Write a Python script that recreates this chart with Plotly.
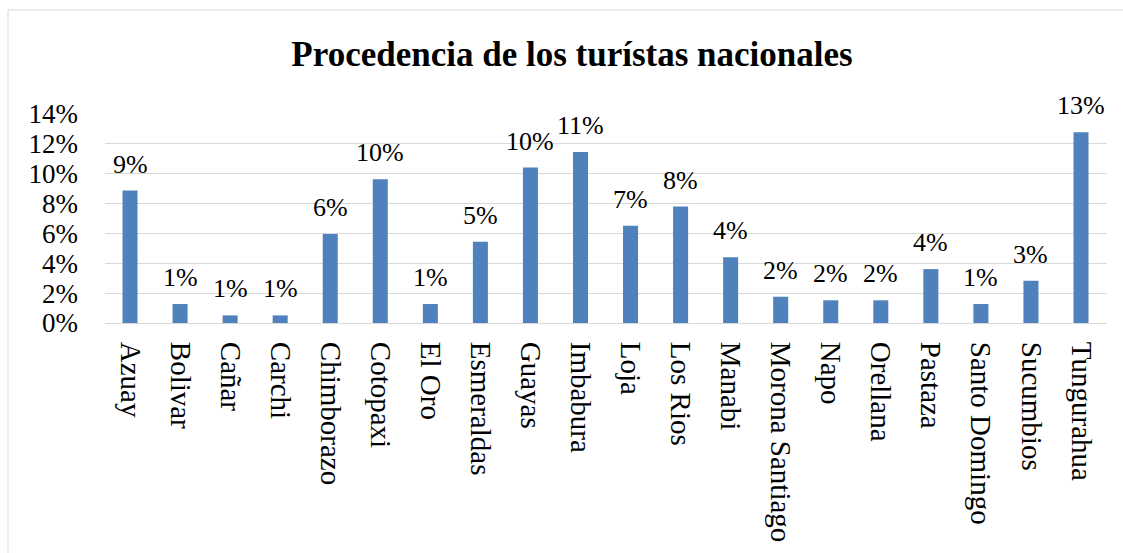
import plotly.graph_objects as go

categories = ["Azuay", "Bolivar", "Cañar", "Carchi", "Chimborazo", "Cotopaxi", "El Oro",
              "Esmeraldas", "Guayas", "Imbabura", "Loja", "Los Rios", "Manabi",
              "Morona Santiago", "Napo", "Orellana", "Pastaza", "Santo Domingo",
              "Sucumbios", "Tungurahua"]
values = [0.0887, 0.0127, 0.0051, 0.0051, 0.0597, 0.0963, 0.0127, 0.0544, 0.1041,
          0.1146, 0.0652, 0.0780, 0.0441, 0.0176, 0.0152, 0.0152, 0.0361, 0.0127,
          0.0283, 0.1277]
y_ticks = [0, 0.02, 0.04, 0.06, 0.08, 0.10, 0.12, 0.14]
y_tick_labels = ["0%", "2%", "4%", "6%", "8%", "10%", "12%", "14%"]
title_text = "Procedencia de los turístas nacionales"

W, H = 1123, 553
ML, MR, MT, MB = 105, 16, 114, 230
pw = W - ML - MR
ph = H - MT - MB

SERIF = "Liberation Serif, Times New Roman, serif"

fig = go.Figure()
fig.add_trace(go.Bar(
    x=categories, y=values,
    marker=dict(color="#4F81BD", line=dict(width=0)),
    hoverinfo="skip",
))

annotations = []
for c, v in zip(categories, values):
    annotations.append(dict(
        x=c, y=v, xref="x", yref="y", text=f"{round(v*100):d}%",
        showarrow=False, yanchor="bottom", xanchor="center", yshift=10,
        font=dict(family=SERIF, size=26, color="black"),
    ))

fig.update_layout(
    width=W, height=H,
    margin=dict(l=ML, r=MR, t=MT, b=MB, autoexpand=False),
    paper_bgcolor="white", plot_bgcolor="white",
    bargap=0.7,
    showlegend=False,
    title=dict(text=f"<b>{title_text}</b>", xref="container", yref="container",
               x=572 / W, y=1 - 54 / H, xanchor="center", yanchor="middle",
               font=dict(family=SERIF, size=35, color="black")),
    annotations=annotations,
    xaxis=dict(
        tickangle=90, tickfont=dict(family=SERIF, size=29, color="black"),
        showgrid=False, showline=True, linecolor="#D9D9D9", linewidth=1,
        ticks="", ticklabelstandoff=12, fixedrange=True,
    ),
    yaxis=dict(
        range=[0, 0.14], tickvals=y_ticks, ticktext=y_tick_labels,
        tickfont=dict(family=SERIF, size=27, color="black"),
        showgrid=True, gridcolor="#D9D9D9", gridwidth=1,
        zeroline=False, showline=False, ticks="", ticklabelstandoff=26,
        fixedrange=True,
    ),
    shapes=[dict(type="rect", xref="paper", yref="paper",
                 x0=(8 - ML) / pw, x1=(1135 - ML) / pw,
                 y0=(MT + ph - 565) / ph, y1=(MT + ph - 10) / ph,
                 line=dict(color="#D9D9D9", width=1), fillcolor="rgba(0,0,0,0)",
                 layer="below")],
)

fig.write_html("out.html", config={"displayModeBar": False},
               post_script="document.body.style.margin='0';document.body.style.overflow='hidden';")
